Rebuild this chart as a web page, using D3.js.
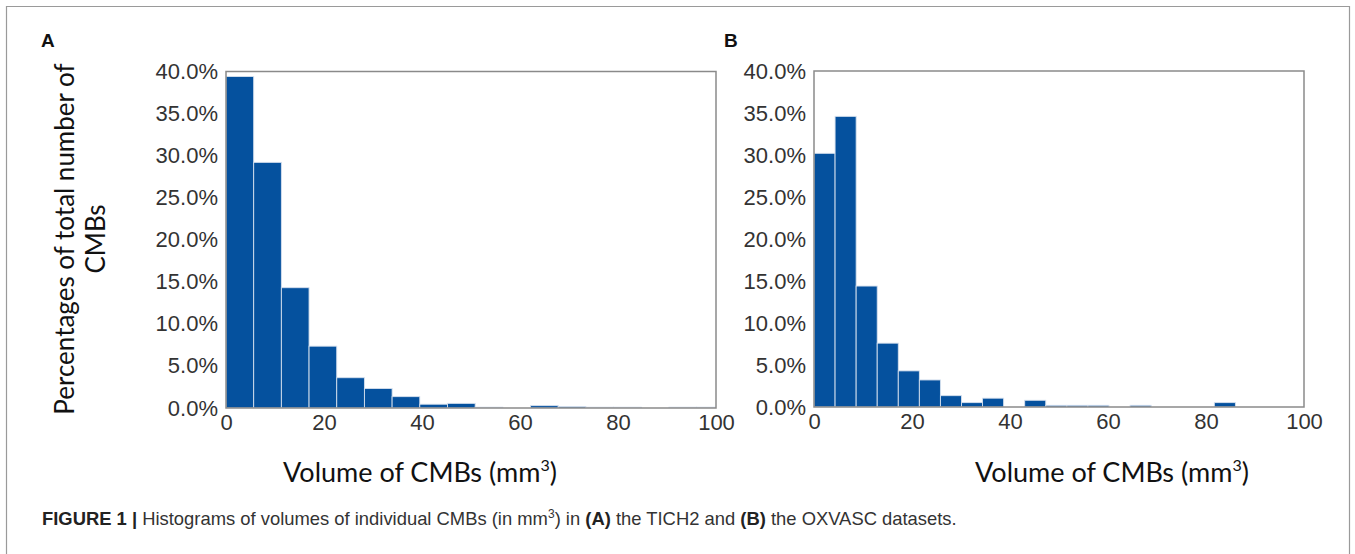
<!DOCTYPE html>
<html>
<head>
<meta charset="utf-8">
<script src="https://cdn.jsdelivr.net/npm/d3@7"></script>
<style>
  html, body { margin: 0; padding: 0; background: #fff; }
  svg { display: block; }
</style>
</head>
<body>
<svg id="fig" width="1355" height="554"></svg>
<script>
// Histogram of CMB volumes, panel A (TICH2): percentage per bin, bins of equal width from 0
const binWidthA = 5.65;
const valuesA = [39.4, 29.2, 14.3, 7.35, 3.6, 2.32, 1.35, 0.45, 0.55, 0.1, 0, 0.28, 0.17, 0.1, 0.1, 0, 0.1, 0.1];

// Panel B (OXVASC)
const binWidthB = 4.3;
const valuesB = [30.2, 34.6, 14.4, 7.6, 4.3, 3.22, 1.35, 0.52, 1.05, 0, 0.8, 0.2, 0.2, 0.2, 0, 0.2, 0, 0, 0, 0.52];

const xTicks = [0, 20, 40, 60, 80, 100];
const yTicks = [0, 5, 10, 15, 20, 25, 30, 35, 40];

const yTitleLines = ["Percentages of total number of", "CMBs"];
const xTitle = "Volume of CMBs (mm";
const captionParts = [
  { t: "FIGURE 1 | ", b: true },
  { t: "Histograms of volumes of individual CMBs (in mm", b: false },
  { t: "3", b: false, sup: true },
  { t: ") in ", b: false, down: true },
  { t: "(A)", b: true },
  { t: " the TICH2 and ", b: false },
  { t: "(B)", b: true },
  { t: " the OXVASC datasets.", b: false }
];

const svg = d3.select("#fig");
const barFill = "#05519e";
const textCol = "#333333";
const tickFont = "'Liberation Sans', Arial, sans-serif";
const titleFont = "Lato, 'Open Sans', sans-serif";

// Figure border
svg.append("path")
  .attr("d", "M6.5,554 V6.5 H1349.5 V554")
  .attr("fill", "none")
  .attr("stroke", "#9a9a9a")
  .attr("stroke-width", 1.2);

function drawPanel(cfg) {
  const x = d3.scaleLinear().domain([0, 100]).range([cfg.left, cfg.right]);
  const y = d3.scaleLinear().domain([0, 40]).range([cfg.bottom, cfg.top]);
  const g = svg.append("g");

  const clipId = "clip" + cfg.letter;
  svg.append("clipPath").attr("id", clipId)
    .append("rect")
    .attr("x", cfg.left).attr("y", cfg.top)
    .attr("width", cfg.right - cfg.left).attr("height", cfg.bottom - cfg.top);

  const bins = cfg.values.map((v, i) => ({ x0: i * cfg.bw, x1: (i + 1) * cfg.bw, v }));

  g.append("g").attr("clip-path", `url(#${clipId})`)
    .selectAll("rect")
    .data(bins.filter(d => d.v > 0))
    .join("rect")
    .attr("x", d => x(d.x0))
    .attr("width", d => x(d.x1) - x(d.x0))
    .attr("y", d => y(d.v))
    .attr("height", d => y(0) - y(d.v))
    .attr("fill", barFill)
    .attr("stroke", "#d6e0ee")
    .attr("stroke-width", 0.9);

  // plot frame
  g.append("rect")
    .attr("x", cfg.left).attr("y", cfg.top)
    .attr("width", cfg.right - cfg.left).attr("height", cfg.bottom - cfg.top)
    .attr("fill", "none")
    .attr("stroke", "#8a8a8a")
    .attr("stroke-width", 1.5);

  // axes (labels only, no tick marks)
  const xAxis = d3.axisBottom(x).tickValues(xTicks).tickSize(0).tickPadding(6).tickFormat(d3.format("d"));
  const yAxis = d3.axisLeft(y).tickValues(yTicks).tickSize(0).tickPadding(8).tickFormat(d => d.toFixed(1) + "%");

  const gx = g.append("g").attr("transform", `translate(0,${cfg.bottom})`).call(xAxis);
  const gy = g.append("g").attr("transform", `translate(${cfg.left},0)`).call(yAxis);
  [gx, gy].forEach(a => {
    a.select(".domain").remove();
    a.selectAll("text")
      .attr("font-family", tickFont)
      .attr("font-size", 22)
      .attr("fill", textCol);
  });

  // panel letter
  svg.append("text")
    .attr("x", cfg.letterX).attr("y", 47)
    .attr("font-family", "'Liberation Sans', Arial, sans-serif")
    .attr("font-weight", "bold")
    .attr("font-size", 19)
    .attr("fill", "#111")
    .text(cfg.letter);

  // x title with superscript
  const xt = svg.append("text")
    .attr("x", cfg.xTitleX).attr("y", 482)
    .attr("text-anchor", "middle")
    .attr("font-family", titleFont)
    .attr("font-size", 27)
    .attr("fill", "#111");
  xt.append("tspan").text(xTitle);
  xt.append("tspan").attr("font-size", 16).attr("dy", -11).text("3");
  xt.append("tspan").attr("dy", 11).text(")");
}

drawPanel({ letter: "A", letterX: 41, left: 226, right: 716, top: 71.5, bottom: 408,
            bw: binWidthA, values: valuesA, xTitleX: 420 });
drawPanel({ letter: "B", letterX: 724, left: 814, right: 1304, top: 71, bottom: 407,
            bw: binWidthB, values: valuesB, xTitleX: 1112 });

// y-axis title of panel A (two lines, rotated)
yTitleLines.forEach((line, i) => {
  svg.append("text")
    .attr("transform", `translate(${74 + i * 31},239) rotate(-90)`)
    .attr("text-anchor", "middle")
    .attr("font-family", titleFont)
    .attr("font-size", 26)
    .attr("fill", "#111")
    .text(line);
});

// caption
const cap = svg.append("text")
  .attr("x", 42).attr("y", 525)
  .attr("font-family", "'Liberation Sans', Arial, sans-serif")
  .attr("font-size", 18.4)
  .attr("fill", textCol);
captionParts.forEach(p => {
  const ts = cap.append("tspan").text(p.t);
  if (p.b) ts.attr("font-weight", "bold").attr("fill", "#222");
  if (p.sup) ts.attr("font-size", 12).attr("dy", -7);
  else if (p.down) ts.attr("dy", 7);
});
</script>
</body>
</html>
